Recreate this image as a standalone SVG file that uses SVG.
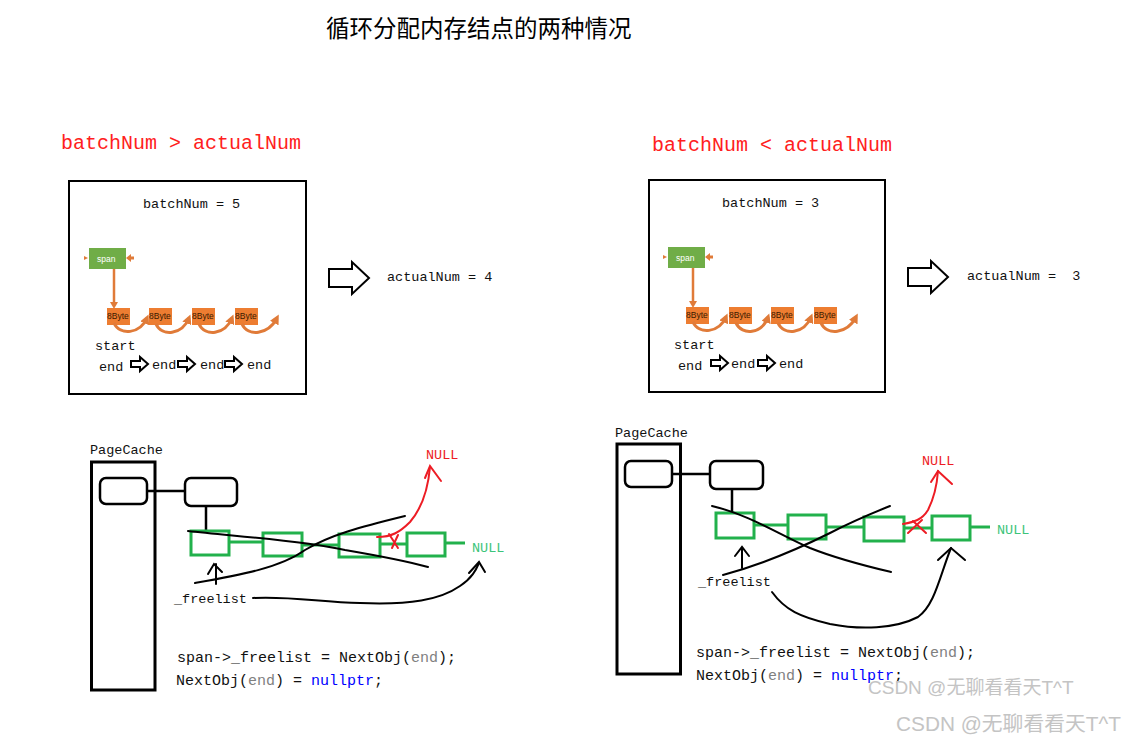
<svg xmlns="http://www.w3.org/2000/svg" width="1125" height="744" viewBox="0 0 1125 744">
<style>
.mono{font-family:"Liberation Mono","DejaVu Sans Mono",monospace;}
.cjk{font-family:"Noto Sans CJK SC",sans-serif;}
.hdr{font-size:20px;fill:#FF2020;}
.lbl{font-size:13.5px;fill:#111;}
.code{font-size:15px;fill:#111;}
.gray{fill:#808080;}
.blue{fill:#0000FF;}
.box{fill:none;stroke:#000;stroke-width:2;}
.pc{fill:none;stroke:#000;stroke-width:3;}
.rr{fill:none;stroke:#000;stroke-width:2.5;}
.gn{fill:none;stroke:#22B14C;stroke-width:3;}
.gl{stroke:#22B14C;stroke-width:3;}
.bl{fill:none;stroke:#000;stroke-width:2.5;}
.hand{fill:none;stroke:#000;stroke-width:2;stroke-linecap:round;}
.red{fill:none;stroke:#ED1C24;stroke-width:2;stroke-linecap:round;}
.hol{fill:#fff;stroke:#000;stroke-width:2;stroke-linejoin:miter;}
.span{fill:#70AD47;}
.byte{fill:#ED7D31;}
.bt{font-family:"Liberation Sans",Arial,sans-serif;font-size:8.5px;fill:#3a1a00;}
.st{font-family:"Liberation Sans",Arial,sans-serif;font-size:8.5px;fill:#fff;}
.oc{fill:none;stroke:#E07B39;stroke-width:3;}
.wm{font-family:"Liberation Sans","Noto Sans CJK SC",sans-serif;fill:#C4C4C4;}
</style>
<defs>
<marker id="oh" viewBox="0 0 10 10" refX="6" refY="5" markerWidth="3.2" markerHeight="3.2" orient="auto">
<path d="M0,0 L10,5 L0,10 Z" fill="#E07B39"/>
</marker>
<path id="sa" d="M0,-3 H9 V-7 L17,0 L9,7 V3 H0 Z"/>
<path id="ba" d="M0,-9 H23 V-16 L40,0 L23,16 V9 H0 Z"/>
</defs>
<rect width="1125" height="744" fill="#fff"/>

<text class="cjk" x="326" y="37" font-size="23.5" fill="#000">循环分配内存结点的两种情况</text>

<text class="mono hdr" x="61" y="149">batchNum &gt; actualNum</text>
<text class="mono hdr" x="652" y="151">batchNum &lt; actualNum</text>

<!-- Left top box -->
<g id="left-box">
<rect class="box" x="69" y="181" width="237" height="213"/>
<text class="mono lbl" x="143" y="208">batchNum = 5</text>
<g id="left-span">
<rect class="span" x="89" y="248" width="37" height="21"/>
<text class="st" x="97" y="262">span</text>
<path d="M84,256 L88,258 L84,260 Z" fill="#E07B39"/>
<line x1="134" y1="258" x2="130" y2="258" stroke="#E07B39" stroke-width="3"/>
<path d="M131,254 L126,258 L131,262 Z" fill="#E07B39"/>
<line x1="114" y1="269" x2="114" y2="303" stroke="#E07B39" stroke-width="2.5"/>
<path d="M110,302 L114,309 L118,302 Z" fill="#E07B39"/>
</g>
<g id="left-bytes">
<rect class="byte" x="107" y="308" width="23" height="17"/><text class="bt" x="107" y="319">8Byte</text>
<rect class="byte" x="149" y="308" width="23" height="17"/><text class="bt" x="149" y="319">8Byte</text>
<rect class="byte" x="192" y="308" width="23" height="17"/><text class="bt" x="192" y="319">8Byte</text>
<rect class="byte" x="235" y="308" width="23" height="17"/><text class="bt" x="235" y="319">8Byte</text>
<path class="oc" marker-end="url(#oh)" d="M114,323 C120,336 140,334 147,318"/>
<path class="oc" marker-end="url(#oh)" d="M156,324 C162,337 182,335 189,318"/>
<path class="oc" marker-end="url(#oh)" d="M199,324 C205,337 225,335 232,318"/>
<path class="oc" marker-end="url(#oh)" d="M242,324 C248,337 268,335 277,318"/>
</g>
<text class="mono lbl" x="95" y="350">start</text>
<text class="mono lbl" x="99" y="371">end</text>
<use href="#sa" class="hol" x="131" y="364"/>
<text class="mono lbl" x="152" y="369">end</text>
<use href="#sa" class="hol" x="178" y="364"/>
<text class="mono lbl" x="200" y="369">end</text>
<use href="#sa" class="hol" x="225" y="364"/>
<text class="mono lbl" x="247" y="369">end</text>
</g>

<g id="left-result">
<use href="#ba" class="hol" x="329" y="278"/>
<text class="mono lbl" x="387" y="281">actualNum = 4</text>
</g>

<!-- Right top box -->
<g id="right-box">
<rect class="box" x="649" y="180" width="236" height="212"/>
<text class="mono lbl" x="722" y="207">batchNum = 3</text>
<g id="right-span">
<rect class="span" x="668" y="247" width="37" height="21"/>
<text class="st" x="676" y="261">span</text>
<path d="M663,255 L667,257 L663,259 Z" fill="#E07B39"/>
<line x1="713" y1="257" x2="709" y2="257" stroke="#E07B39" stroke-width="3"/>
<path d="M710,253 L705,257 L710,261 Z" fill="#E07B39"/>
<line x1="693" y1="268" x2="693" y2="302" stroke="#E07B39" stroke-width="2.5"/>
<path d="M689,301 L693,308 L697,301 Z" fill="#E07B39"/>
</g>
<g id="right-bytes">
<rect class="byte" x="686" y="307" width="23" height="17"/><text class="bt" x="686" y="318">8Byte</text>
<rect class="byte" x="729" y="307" width="23" height="17"/><text class="bt" x="729" y="318">8Byte</text>
<rect class="byte" x="771" y="307" width="23" height="17"/><text class="bt" x="771" y="318">8Byte</text>
<rect class="byte" x="814" y="307" width="23" height="17"/><text class="bt" x="814" y="318">8Byte</text>
<path class="oc" marker-end="url(#oh)" d="M693,322 C699,335 719,333 726,317"/>
<path class="oc" marker-end="url(#oh)" d="M736,323 C742,336 762,334 768,317"/>
<path class="oc" marker-end="url(#oh)" d="M778,323 C784,336 804,334 811,317"/>
<path class="oc" marker-end="url(#oh)" d="M821,323 C827,336 847,334 856,317"/>
</g>
<text class="mono lbl" x="674" y="349">start</text>
<text class="mono lbl" x="678" y="370">end</text>
<use href="#sa" class="hol" x="711" y="363"/>
<text class="mono lbl" x="731" y="368">end</text>
<use href="#sa" class="hol" x="758" y="363"/>
<text class="mono lbl" x="779" y="368">end</text>
</g>

<g id="right-result">
<use href="#ba" class="hol" x="908" y="277"/>
<text class="mono lbl" x="967" y="280" xml:space="preserve">actualNum =  3</text>
</g>

<!-- Bottom left -->
<g id="left-pagecache">
<text class="mono lbl" x="90" y="454">PageCache</text>
<rect class="pc" x="91.5" y="462" width="63.5" height="228"/>
<rect class="rr" x="100" y="478" width="47" height="26" rx="6"/>
<line class="bl" x1="147" y1="491" x2="185" y2="491"/>
<rect class="rr" x="185" y="478" width="52" height="28" rx="6"/>
<line class="bl" x1="206" y1="506" x2="206" y2="530"/>
</g>
<g id="left-list">
<line class="gl" x1="229" y1="542" x2="263" y2="542"/>
<line class="gl" x1="302" y1="545" x2="339" y2="545"/>
<line class="gl" x1="380" y1="544" x2="407" y2="544"/>
<line class="gl" x1="445" y1="543" x2="465" y2="543"/>
<rect class="gn" x="191" y="531" width="38" height="24"/>
<rect class="gn" x="263" y="533" width="39" height="23"/>
<rect class="gn" x="339" y="534" width="41" height="23"/>
<rect class="gn" x="407" y="533" width="38" height="23"/>
<text class="mono lbl" x="472" y="552" style="fill:#3CC47A">NULL</text>
</g>
<g id="left-red">
<text class="mono lbl" x="426" y="459" style="fill:#ED1C24">NULL</text>
<path class="red" d="M377,537 C392,537 400,532 410,522 C422,508 428,490 430,467"/>
<path class="red" d="M425,478 L430,466 L441,481"/>
<path class="red" d="M389,534 L398,548 M392,548 L398,535"/>
</g>
<g id="left-hand">
<path class="hand" d="M188,531 C230,536 300,540 345,550 C380,556 410,562 428,567"/>
<path class="hand" d="M195,583 C240,575 280,568 305,550 C330,535 360,527 405,516"/>
<path class="hand" d="M216,584 L216,564 M208,574 L214,564 L222,572"/>
<text class="mono lbl" x="174" y="603">_freelist</text>
<path class="hand" d="M253,598 C290,596 320,602 360,603 C410,605 440,600 460,586 C472,578 476,570 479,563"/>
<path class="hand" d="M469,573 L479,562 L485,572"/>
</g>
<g id="left-code">
<text class="mono code" x="177" y="662">span-&gt;_freelist = NextObj(<tspan class="gray">end</tspan>);</text>
<text class="mono code" x="176" y="685">NextObj(<tspan class="gray">end</tspan>) = <tspan class="blue">nullptr</tspan>;</text>
</g>

<!-- Bottom right -->
<g id="right-pagecache">
<text class="mono lbl" x="615" y="437">PageCache</text>
<rect class="pc" x="617" y="444" width="63.5" height="230"/>
<rect class="rr" x="625" y="461" width="47" height="26" rx="6"/>
<line class="bl" x1="672" y1="474" x2="710" y2="474"/>
<rect class="rr" x="710" y="461" width="53" height="28" rx="6"/>
<line class="bl" x1="732" y1="489" x2="732" y2="513"/>
</g>
<g id="right-list">
<line class="gl" x1="754" y1="525" x2="788" y2="525"/>
<line class="gl" x1="826" y1="527" x2="864" y2="527"/>
<line class="gl" x1="904" y1="528" x2="932" y2="528"/>
<line class="gl" x1="970" y1="527" x2="990" y2="527"/>
<rect class="gn" x="716" y="513" width="38" height="25"/>
<rect class="gn" x="788" y="515" width="38" height="24"/>
<rect class="gn" x="864" y="517" width="40" height="24"/>
<rect class="gn" x="932" y="516" width="38" height="24"/>
<text class="mono lbl" x="997" y="534" style="fill:#3CC47A">NULL</text>
</g>
<g id="right-red">
<text class="mono lbl" x="922" y="465" style="fill:#ED1C24">NULL</text>
<path class="red" d="M903,524 C914,522 922,520 928,510 C934,498 937,485 938,471"/>
<path class="red" d="M931,482 L938,471 L952,484"/>
<path class="red" d="M908,533 L922,520 M913,521 L926,533"/>
</g>
<g id="right-hand">
<path class="hand" d="M712,506 C750,515 780,535 810,548 C840,560 870,567 891,572"/>
<path class="hand" d="M723,575 C760,565 800,548 830,533 C855,520 875,512 890,506"/>
<path class="hand" d="M742,568 L742,548 M735,556 L742,547 L749,556"/>
<text class="mono lbl" x="698" y="586">_freelist</text>
<path class="hand" d="M772,592 C785,610 800,617 830,624 C860,630 895,629 918,617 C935,605 940,575 951,548"/>
<path class="hand" d="M938,560 L951,548 L965,560"/>
</g>
<g id="right-code">
<text class="mono code" x="696" y="657">span-&gt;_freelist = NextObj(<tspan class="gray">end</tspan>);</text>
<text class="mono code" x="696" y="680">NextObj(<tspan class="gray">end</tspan>) = <tspan class="blue">nullptr</tspan>;</text>
</g>

<text class="wm" x="868" y="694" font-size="19">CSDN @无聊看看天T^T</text>
<text class="wm" x="896" y="731" font-size="20.8">CSDN @无聊看看天T^T</text>
</svg>
